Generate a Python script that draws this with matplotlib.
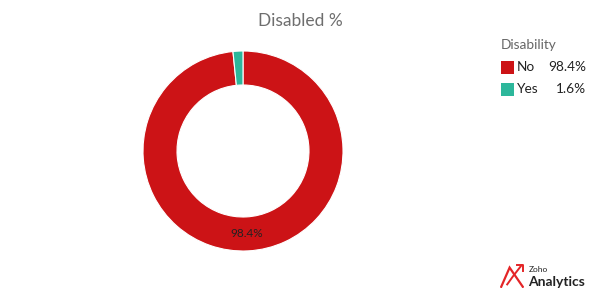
import matplotlib
matplotlib.use("Agg")
import matplotlib.pyplot as plt
import numpy as np
from matplotlib.patches import Rectangle

# -----------------------
# Data
# -----------------------

categories = ["No", "Yes"]
shares = [98.4, 1.6]
colors = ["#CC1316", "#2DB79B"]
legend_title = "Disability"
chart_title = "Disabled %"

plt.rcParams["font.family"] = ["Lato", "DejaVu Sans"]

fig = plt.figure(figsize=(6, 3), dpi=100)
fig.patch.set_facecolor("white")

fig.text(0.5, 0.93, chart_title, ha="center", va="center",
         fontsize=12.5, color="#6E6E6E")

# donut
ax = fig.add_axes([143 / 600, 49 / 300, 200 / 600, 200 / 300])
wedges, _ = ax.pie(
    shares,
    colors=colors,
    startangle=90,
    counterclock=False,
    radius=1.0,
    wedgeprops=dict(width=0.34, edgecolor="white", linewidth=0.8),
)
ax.set_xlim(-1, 1)
ax.set_ylim(-1, 1)
ax.set_aspect("equal")
ax.axis("off")

# label the big slice at its mid angle
for val, w in zip(shares, wedges):
    ang = np.deg2rad((w.theta1 + w.theta2) / 2)
    if val > 5:
        r = 0.83
        ax.text(r * np.cos(ang), r * np.sin(ang), f"{val}%",
                ha="center", va="center", fontsize=8.5, color="#222222")

# legend
fig.text(501 / 600, 1 - 45 / 300, legend_title, ha="left", va="center",
         fontsize=9.8, color="#666666")
rows_y = [67, 89]
for cat, val, col, y in zip(categories, shares, colors, rows_y):
    fig.patches.append(Rectangle((501 / 600, 1 - (y + 6.5) / 300), 13 / 600, 13 / 300,
                                 transform=fig.transFigure, facecolor=col,
                                 edgecolor="none"))
    fig.text(517 / 600, 1 - y / 300, cat, ha="left", va="center",
             fontsize=9.8, color="#222222")
    fig.text(586 / 600, 1 - y / 300, f"{val}%", ha="right", va="center",
             fontsize=9.8, color="#222222")

# logo
logo = fig.add_axes([500 / 600, 12 / 300, 24 / 600, 24 / 300])
logo.plot([0.05, 0.4, 0.95], [0.05, 0.85, 0.05], color="#E42527", lw=1.6,
          solid_joinstyle="miter")
logo.plot([0.3, 0.55, 0.9], [0.15, 0.5, 0.95], color="#E42527", lw=1.4)
logo.plot([0.72, 0.95, 0.95], [0.95, 0.95, 0.72], color="#E42527", lw=1.4)
logo.set_xlim(0, 1)
logo.set_ylim(0, 1)
logo.axis("off")
fig.text(529 / 600, 1 - 270 / 300, "Zoho", ha="left", va="center",
         fontsize=6, color="#222222")
fig.text(528 / 600, 1 - 282 / 300, "Analytics", ha="left", va="center",
         fontsize=10, color="#222222", fontweight="bold")

fig.savefig("out.png", dpi=100)
